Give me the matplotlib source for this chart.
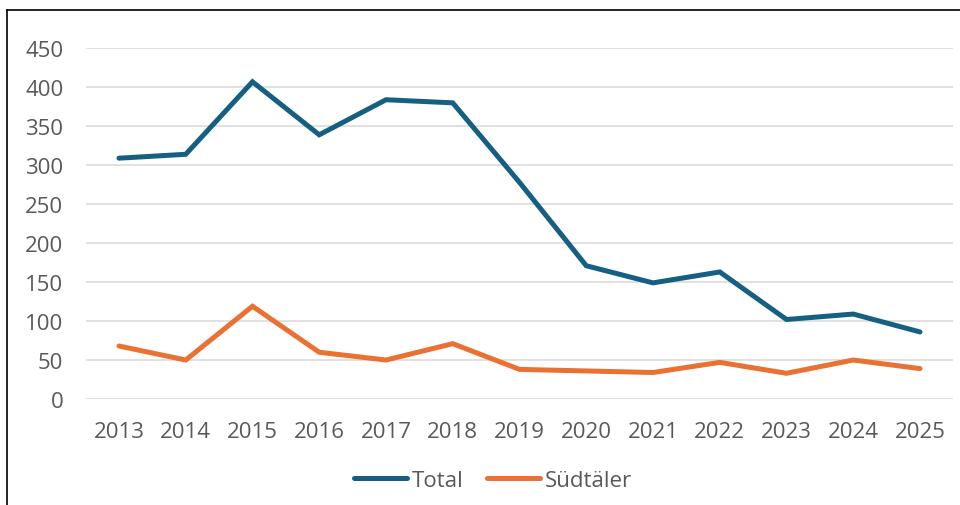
import matplotlib
matplotlib.use("Agg")
import matplotlib.pyplot as plt
from matplotlib.lines import Line2D

# data
years = ["2013", "2014", "2015", "2016", "2017", "2018", "2019",
         "2020", "2021", "2022", "2023", "2024", "2025"]
total = [309, 314, 407, 339, 384, 380, 278, 171, 149, 163, 102, 109, 86]
suedtaeler = [68, 50, 119, 60, 50, 71, 38, 36, 34, 47, 33, 50, 39]
yticks = [0, 50, 100, 150, 200, 250, 300, 350, 400, 450]

BLUE = "#156082"
ORANGE = "#E97132"
GREY = "#595959"

plt.rcParams["font.family"] = ["Open Sans", "DejaVu Sans"]

fig = plt.figure(figsize=(9.6, 5.06), dpi=100)
ax = fig.add_axes([85.6 / 960, 1 - 400 / 506, (953.4 - 85.6) / 960, (400 - 49.3) / 506])

x = range(len(years))
ax.plot(x, total, color=BLUE, lw=3.6, solid_capstyle="round", solid_joinstyle="miter", label="Total")
ax.plot(x, suedtaeler, color=ORANGE, lw=3.6, solid_capstyle="round", solid_joinstyle="miter", label="Südtäler")

ax.set_xlim(-0.5, len(years) - 0.5)
ax.set_ylim(0, 450)
ax.set_yticks(yticks)
ax.set_xticks(list(x))
ax.set_xticklabels(years)
ax.grid(axis="y", color="#d9d9d9", lw=1.1)
ax.set_axisbelow(True)
for s in ax.spines.values():
    s.set_visible(False)
ax.tick_params(length=0, labelsize=16, colors=GREY)
ax.tick_params(axis="x", pad=16)
ax.tick_params(axis="y", pad=16)

handles = [Line2D([], [], color=BLUE, lw=3.6, solid_capstyle="round"),
           Line2D([], [], color=ORANGE, lw=3.6, solid_capstyle="round")]
leg = fig.legend(handles, ["Total", "Südtäler"], loc="center", ncol=2,
                 bbox_to_anchor=(493 / 960, 1 - 481.7 / 506), frameon=False,
                 fontsize=16, handlelength=2.4, handletextpad=0.2, columnspacing=1.05)
for t in leg.get_texts():
    t.set_color(GREY)

# screenshot border (top and left)
fig.add_artist(Line2D([7.3 / 960, 1], [1 - 11 / 506, 1 - 11 / 506], color="black", lw=1.2, transform=fig.transFigure))
fig.add_artist(Line2D([7.3 / 960, 7.3 / 960], [0, 1 - 11 / 506], color="black", lw=1.2, transform=fig.transFigure))

fig.savefig("out.png", dpi=100)
